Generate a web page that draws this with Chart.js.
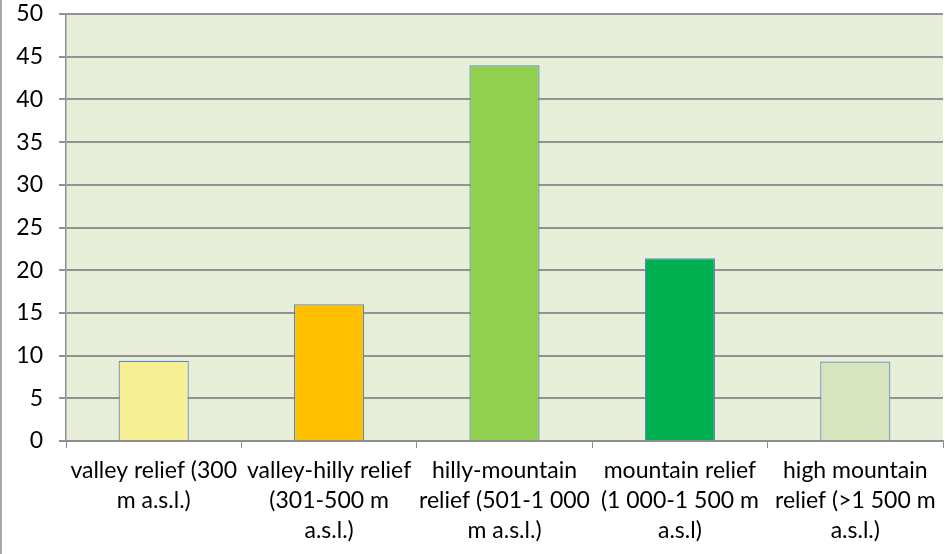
<!DOCTYPE html>
<html>
<head>
<meta charset="utf-8">
<script src="https://cdn.jsdelivr.net/npm/chart.js@4"></script>
<style>
  html, body { margin: 0; padding: 0; background: #fff; }
  #wrap { width: 945px; height: 554px; position: relative; }
</style>
</head>
<body>
<div id="wrap"><canvas id="reliefChart"></canvas></div>
<script>
  const categories = [
    ['valley relief (300', 'm a.s.l.)'],
    ['valley-hilly relief', '(301-500 m', 'a.s.l.)'],
    ['hilly-mountain', 'relief (501-1 000', 'm a.s.l.)'],
    ['mountain relief', '(1 000-1 500 m', 'a.s.l)'],
    ['high mountain', 'relief (>1 500 m', 'a.s.l.)']
  ];
  const shares = [9.4, 16, 44, 21.4, 9.3];
  const barColors = ['#f7ef94', '#ffc000', '#92d050', '#00b050', '#d7e4bd'];
  const yMin = 0, yMax = 50, yStep = 5;

  // dotted light-green fill behind the plot area
  function makePattern(ctx) {
    const tile = document.createElement('canvas');
    tile.width = 4; tile.height = 4;
    const t = tile.getContext('2d');
    t.fillStyle = '#e4edd4';
    t.fillRect(0, 0, 4, 4);
    t.fillStyle = '#f4f8ec';
    t.fillRect(0, 0, 1, 1);
    t.fillRect(2, 2, 1, 1);
    t.fillStyle = '#ebf1df';
    t.fillRect(2, 0, 1, 1);
    t.fillRect(0, 2, 1, 1);
    return ctx.createPattern(tile, 'repeat');
  }

  const plotBackground = {
    id: 'plotBackground',
    beforeDraw(chart) {
      const { ctx, chartArea: a } = chart;
      ctx.save();
      ctx.fillStyle = makePattern(ctx);
      ctx.fillRect(a.left, a.top, a.right - a.left, a.bottom - a.top);
      // outer frame edge on the left
      ctx.strokeStyle = '#8c8c8c';
      ctx.lineWidth = 1.5;
      ctx.beginPath();
      ctx.moveTo(1, 0);
      ctx.lineTo(1, chart.height);
      ctx.stroke();
      ctx.restore();
    }
  };

  Chart.defaults.font.family = 'Lato, "Open Sans", sans-serif';
  Chart.defaults.font.size = 23;
  Chart.defaults.color = '#000';

  new Chart(document.getElementById('reliefChart'), {
    type: 'bar',
    data: {
      labels: categories,
      datasets: [{
        data: shares,
        backgroundColor: barColors,
        borderColor: '#5b86c0',
        borderWidth: 1.2,
        categoryPercentage: 1,
        barPercentage: 0.4
      }]
    },
    plugins: [plotBackground],
    options: {
      responsive: true,
      maintainAspectRatio: false,
      animation: false,
      layout: { padding: { top: 0, right: 2, left: 0, bottom: 0 } },
      plugins: {
        legend: { display: false },
        tooltip: { enabled: false }
      },
      scales: {
        x: {
          grid: {
            drawOnChartArea: false,
            drawTicks: true,
            tickLength: 7,
            color: '#8c8c8c',
            offset: true
          },
          border: { color: '#8c8c8c', width: 1.5 },
          ticks: {
            autoSkip: false,
            maxRotation: 0,
            minRotation: 0,
            padding: 8,
            font: { size: 23, lineHeight: 1.3 }
          },
          afterFit: s => { s.height = 113; }
        },
        y: {
          min: yMin,
          max: yMax,
          ticks: { stepSize: yStep, padding: 16, font: { size: 23 } },
          grid: { color: '#929292', lineWidth: 2, tickLength: 7 },
          border: { color: '#8c8c8c', width: 1.5 },
          afterFit: s => {
            s.width = 66;
            s.paddingTop = 14;
          }
        }
      }
    }
  });
</script>
</body>
</html>
